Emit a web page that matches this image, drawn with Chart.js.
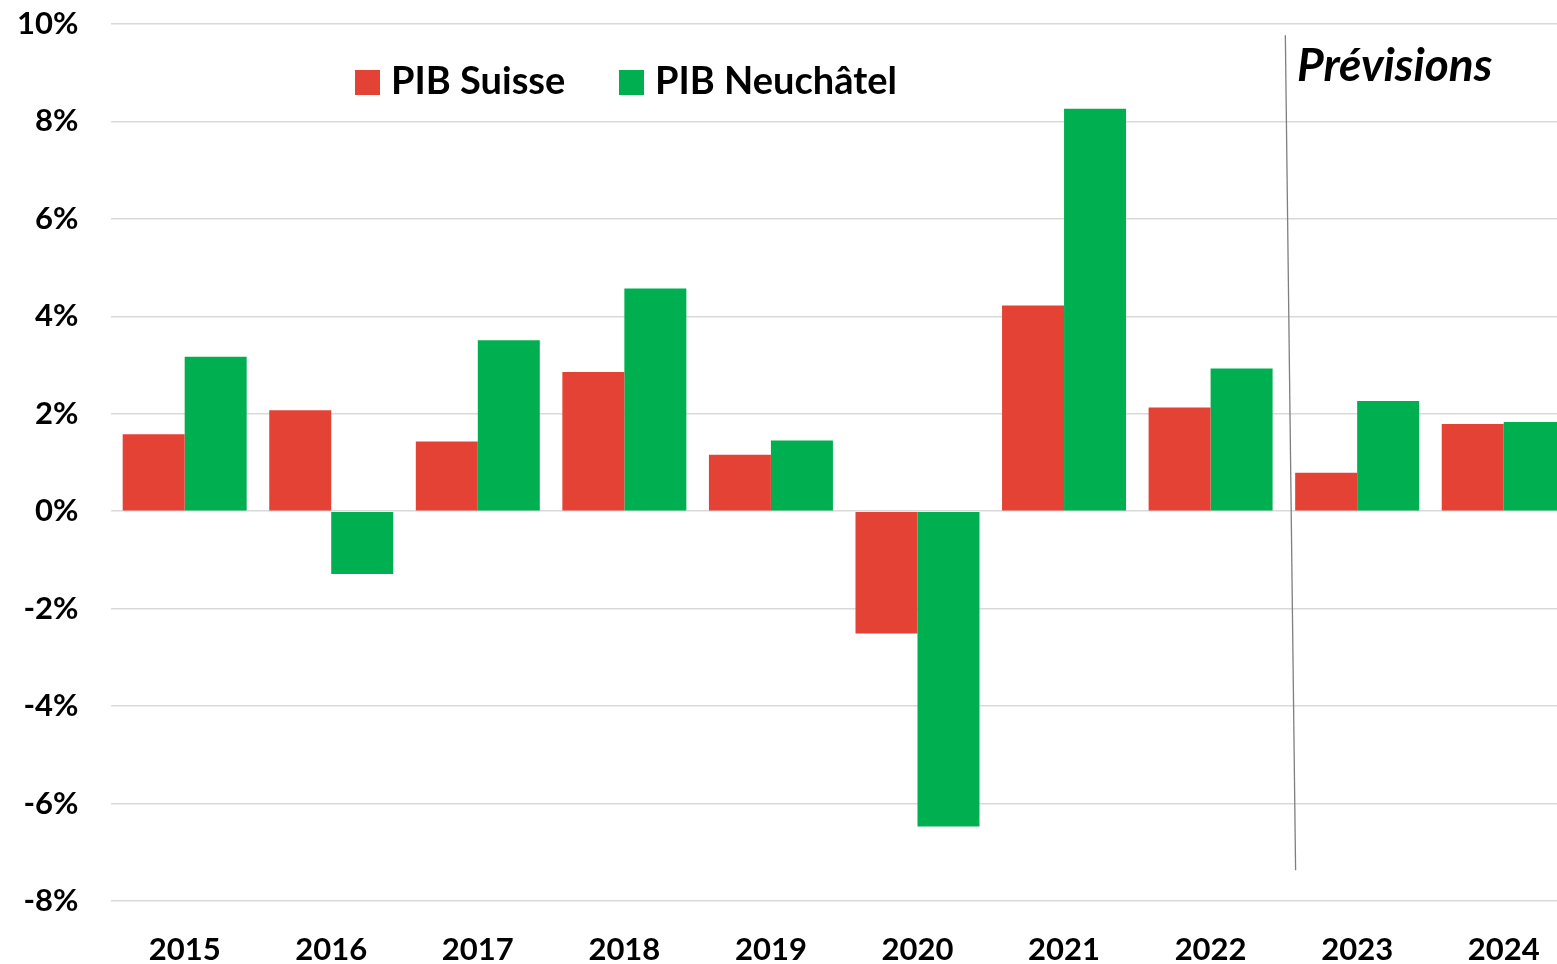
<!DOCTYPE html>
<html>
<head>
<meta charset="utf-8">
<script src="https://cdn.jsdelivr.net/npm/chart.js@4/dist/chart.umd.min.js"></script>
<style>
  html, body { margin: 0; padding: 0; background: #fff; overflow: hidden; }
  #wrap { position: absolute; left: 0; top: 0; }
</style>
</head>
<body>
<div id="wrap"><canvas id="myChart" width="1577" height="964"></canvas></div>
<script>
// growth of GDP, in %
const years = ['2015', '2016', '2017', '2018', '2019', '2020', '2021', '2022', '2023', '2024'];
const pibSuisse = [1.58, 2.07, 1.43, 2.86, 1.16, -2.51, 4.22, 2.13, 0.79, 1.79];
const pibNeuchatel = [3.17, -1.29, 3.51, 4.57, 1.45, -6.47, 8.26, 2.93, 2.26, 1.83];
const seriesNames = ['PIB Suisse', 'PIB Neuchâtel'];
const yTicks = [-8, -6, -4, -2, 0, 2, 4, 6, 8, 10];
const forecastLabel = 'Prévisions';

const red = '#e34234';
const green = '#00b050';
const font = 'Lato, "Open Sans", sans-serif';

// legend + forecast separator, drawn on top of the bars
const overlay = {
    id: 'overlay',
    afterDatasetsDraw(chart) {
        const ctx = chart.ctx;
        const x = chart.scales.x;
        const y = chart.scales.y;
        ctx.save();

        // thin slanted line between 2022 and 2023
        ctx.strokeStyle = '#7f7f7f';
        ctx.lineWidth = 1.3;
        ctx.beginPath();
        ctx.moveTo(x.getPixelForValue(7.51), y.getPixelForValue(9.77));
        ctx.lineTo(x.getPixelForValue(7.58), y.getPixelForValue(-7.37));
        ctx.stroke();

        ctx.fillStyle = '#000';
        ctx.font = 'italic bold 46px ' + font;
        ctx.textBaseline = 'alphabetic';
        ctx.fillText(forecastLabel, 1297, 81);

        // legend
        const itemX = [355, 619];
        ctx.font = 'bold 38px ' + font;
        chart.data.datasets.forEach((ds, i) => {
            ctx.fillStyle = ds.backgroundColor;
            ctx.fillRect(itemX[i], 70, 25, 25);
            ctx.fillStyle = '#000';
            ctx.fillText(ds.label, itemX[i] + 36, 94);
        });
        ctx.restore();
    }
};

var myChart = new Chart('myChart', {
    type: 'bar',
    data: {
        labels: years,
        datasets: [{
            label: seriesNames[0],
            backgroundColor: red,
            data: pibSuisse
        }, {
            label: seriesNames[1],
            backgroundColor: green,
            data: pibNeuchatel
        }]
    },
    options: {
        responsive: false,
        animation: false,
        layout: { padding: { top: 24, right: 0, bottom: 0, left: 0 } },
        datasets: {
            bar: { categoryPercentage: 0.846, barPercentage: 1.0 }
        },
        plugins: {
            legend: { display: false },
            tooltip: { enabled: false }
        },
        scales: {
            x: {
                grid: { display: false },
                border: { display: false },
                ticks: {
                    color: '#000',
                    padding: 22,
                    font: { family: font, size: 31, weight: 'bold' }
                },
                afterFit(scale) {
                    scale.height = 63;
                    scale.paddingLeft = 0;
                    scale.paddingRight = 0;
                }
            },
            y: {
                min: -8,
                max: 10,
                afterBuildTicks(scale) {
                    scale.ticks = yTicks.map(v => ({ value: v }));
                },
                grid: { color: '#d9d9d9', lineWidth: 1.6, drawTicks: false },
                border: { display: false },
                ticks: {
                    color: '#000',
                    padding: 33,
                    font: { family: font, size: 31, weight: 'bold' },
                    callback: v => v + '%'
                },
                afterFit(scale) {
                    scale.width = 111.4;
                    scale.paddingTop = 0;
                    scale.paddingBottom = 0;
                }
            }
        }
    },
    plugins: [overlay]
});
</script>
</body>
</html>
